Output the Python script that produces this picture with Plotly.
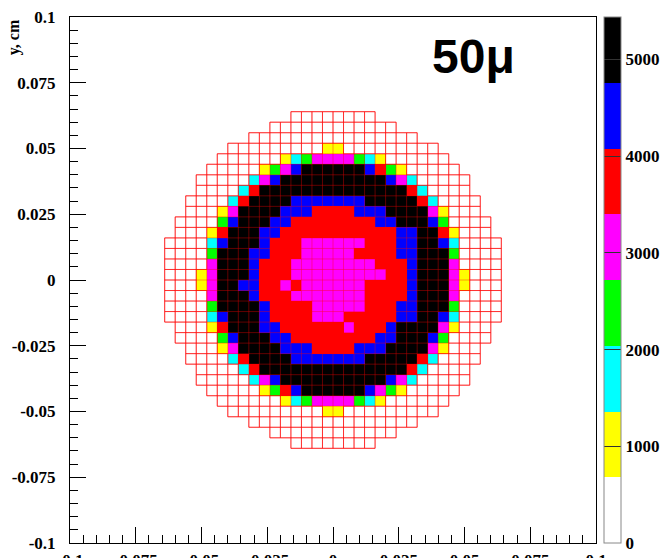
import plotly.graph_objects as go

# ---------------- data ----------------
N_BINS = 50
X_MIN, X_MAX = -0.1, 0.1
Y_MIN, Y_MAX = -0.1, 0.1

# rows (counted from the top, 0..49) that contain filled bins and the first filled column;
# the last filled column is mirrored (49 - first)
filled_rows = list(range(9, 41))
first_col = [21, 19, 17, 15, 14, 13, 12, 12, 11, 11, 10, 10, 9, 9, 9, 9,
             9, 9, 9, 9, 10, 10, 11, 11, 12, 12, 13, 14, 15, 17, 19, 21]

# colour level of bins above the lowest level (others inside the disc are in the lowest level)
level_runs = {
    12: "24-25y",
    13: "20y 21c 22g 23-26m 27g 28c 29y",
    14: "18y 19g 20m 21b 22-27k 28b 29r 30g 31y",
    15: "17c 18m 19b 20-29k 30b 31m 32c",
    16: "16c 17r 18-31k 32r 33c",
    17: "15c 16r 17-20k 21-27b 28-32k 33r 34c",
    18: "14y 15m 16-19k 20-22b 23-26r 27-29b 30-33k 34m 35y",
    19: "14g 15b 16-18k 19-20b 21-28r 29-30b 31-33k 34b 35g",
    20: "13y 14r 15-17k 18-19b 20-30r 31-32b 33-34k 35r 36y",
    21: "13c 14b 15-17k 18b 19-21r 22-27m 28-30r 31-32b 33-34k 35b 36c",
    22: "13g 14-16k 17-18b 19-21r 22-26m 27-30r 31-32b 33-35k 36g",
    23: "13m 14-16k 17b 18-20r 21-28m 29-31r 32b 33-35k 36m",
    24: "12y 13m 14-16k 17b 18-20r 21-29m 30-31r 32b 33-35k 36m 37y",
    25: "12y 13m 14-15k 16-17b 18-19r 20m 21r 22-27m 28-31r 32b 33-35k 36m 37y",
    26: "13m 14-16k 17b 18-20r 21-27m 28-31r 32b 33-35k 36m",
    27: "13g 14-17k 18b 19-22r 23-27m 28-30r 31-32b 33-35k 36g",
    28: "13c 14b 15-17k 18b 19-22r 23-25m 26-30r 31-32b 33-34k 35b 36c",
    29: "13y 14r 15-17k 18-19b 20-25r 26m 27-29r 30b 31-34k 35m 36y",
    30: "14g 15b 16-18k 19-20b 21-28r 29-30b 31-33k 34b 35g",
    31: "14y 15m 16-19k 20-22b 23-26r 27-29b 30-33k 34m 35y",
    32: "15c 16r 17-20k 21-27b 28-32k 33r 34c",
    33: "16c 17r 18-31k 32r 33c",
    34: "17c 18m 19b 20-29k 30b 31m 32c",
    35: "18y 19g 20r 21b 22-27k 28b 29m 30g 31y",
    36: "20y 21c 22g 23-26m 27g 28c 29y",
    37: "24-25y",
}

# estimated bin content for each colour level
level_value = {"w": 340, "y": 1020, "c": 1700, "g": 2380, "m": 3060,
               "r": 3740, "b": 4420, "k": 5100}
palette = ["#ffffff", "#ffff00", "#00ffff", "#00ff00", "#ff00ff",
           "#ff0000", "#0000ff", "#000000"]
Z_MAX = 5440
cbar_ticks = [0, 1000, 2000, 3000, 4000, 5000]
x_ticks = [-0.1, -0.075, -0.05, -0.025, 0, 0.025, 0.05, 0.075, 0.1]
x_tick_text = ["-0.1", "-0.075", "-0.05", "-0.025", "0", "0.025", "0.05", "0.075", "0.1"]
y_ticks = x_ticks
y_tick_text = x_tick_text

# ---------------- build histogram ----------------
bw = (X_MAX - X_MIN) / N_BINS
x_edges = [X_MIN + bw * i for i in range(N_BINS + 1)]
y_edges_top = [Y_MAX - bw * j for j in range(N_BINS + 1)]
x_centers = [X_MIN + bw * (i + 0.5) for i in range(N_BINS)]
y_centers = [Y_MAX - bw * (j + 0.5) for j in range(N_BINS)]

codes = [[None] * N_BINS for _ in range(N_BINS)]
for row, fc in zip(filled_rows, first_col):
    for c in range(fc, N_BINS - fc):
        codes[row][c] = "w"
for row, spec in level_runs.items():
    for tok in spec.split():
        lv = tok[-1]
        rng = tok[:-1]
        if "-" in rng:
            a, b = map(int, rng.split("-"))
        else:
            a = b = int(rng)
        for c in range(a, b + 1):
            codes[row][c] = lv

z = [[(level_value[codes[j][i]] if codes[j][i] else None) for i in range(N_BINS)]
     for j in range(N_BINS)]

colorscale = []
for k, col in enumerate(palette):
    colorscale.append([k / len(palette), col])
    colorscale.append([(k + 1) / len(palette), col])


def outline(selector):
    edges = set()
    for j in range(N_BINS):
        for i in range(N_BINS):
            if codes[j][i] and selector(codes[j][i]):
                edges.add(("h", j, i))
                edges.add(("h", j + 1, i))
                edges.add(("v", j, i))
                edges.add(("v", j, i + 1))
    xs, ys = [], []
    for kind, j, i in sorted(edges):
        if kind == "h":
            xs += [x_edges[i], x_edges[i + 1], None]
            ys += [y_edges_top[j], y_edges_top[j], None]
        else:
            xs += [x_edges[i], x_edges[i], None]
            ys += [y_edges_top[j], y_edges_top[j + 1], None]
    return xs, ys


fig = go.Figure()
fig.add_trace(go.Heatmap(
    x=x_centers, y=y_centers, z=z, zmin=0, zmax=Z_MAX,
    colorscale=colorscale, hoverongaps=False,
    colorbar=dict(
        thickness=17, xref="container", x=604 / 665, xanchor="left",
        xpad=0, ypad=0, y=0, yanchor="bottom", len=1.0,
        outlinewidth=1, outlinecolor="#888888",
        tickvals=cbar_ticks, ticks="inside", ticklen=17, tickcolor="#333333",
        tickfont=dict(family="Liberation Serif", size=17, color="black", weight="bold"),
    ),
))
ax, ay = outline(lambda c: True)
fig.add_trace(go.Scatter(x=ax, y=ay, mode="lines", hoverinfo="skip", showlegend=False,
                         line=dict(color="rgba(255,0,0,0.38)", width=1)))
wx, wy = outline(lambda c: c == "w")
fig.add_trace(go.Scatter(x=wx, y=wy, mode="lines", hoverinfo="skip", showlegend=False,
                         line=dict(color="rgba(255,0,0,0.7)", width=1)))

tick_font = dict(family="Liberation Serif", size=17, color="black", weight="bold")
axis_common = dict(
    ticks="inside", ticklen=16, tickwidth=1, tickcolor="black",
    showline=True, linecolor="black", linewidth=1, mirror=True,
    showgrid=False, zeroline=False, tickfont=tick_font, automargin=False,
    minor=dict(dtick=0.005, tick0=-0.1, ticks="inside", ticklen=8, tickcolor="black", showgrid=False),
)
fig.update_xaxes(range=[X_MIN, X_MAX], tickmode="array", tickvals=x_ticks, ticktext=x_tick_text,
                 ticklabelstandoff=2, **axis_common)
fig.update_yaxes(range=[Y_MIN, Y_MAX], tickmode="array", tickvals=y_ticks, ticktext=y_tick_text,
                 ticklabelstandoff=10, **axis_common)

fig.add_annotation(text="50μ", xref="paper", yref="paper", x=0.768, y=0.924,
                   xanchor="center", yanchor="middle",
                   showarrow=False, font=dict(family="Liberation Sans", size=48, color="black", weight="bold"))
fig.add_annotation(text="y, cm", xref="paper", yref="paper", x=-0.106, y=1.0,
                   xanchor="center", yanchor="top",
                   textangle=-90, showarrow=False,
                   font=dict(family="Liberation Serif", size=16, color="black", weight="bold"))

fig.update_layout(
    width=665, height=558,
    margin=dict(l=70, r=69, t=17, b=15, autoexpand=False),
    paper_bgcolor="white", plot_bgcolor="white",
)
fig.write_html("out.html")
